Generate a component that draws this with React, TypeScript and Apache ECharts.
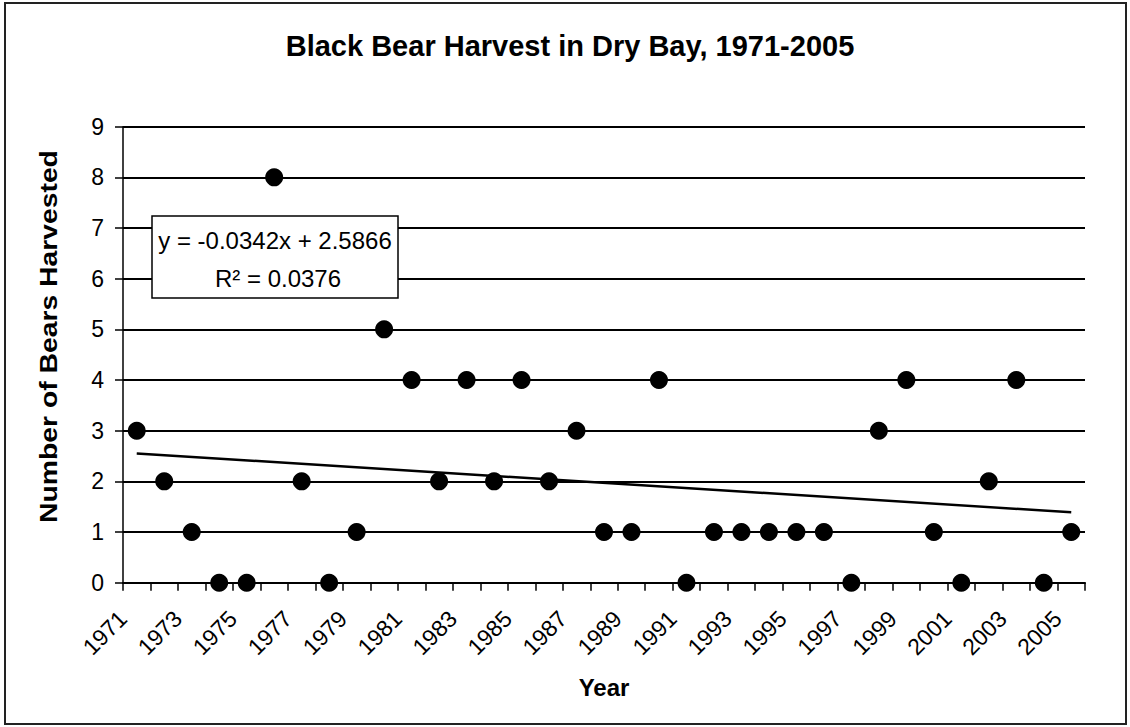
import React, { useEffect, useRef } from "react";
import * as echarts from "echarts";

const years = [
  "1971", "1972", "1973", "1974", "1975", "1976", "1977", "1978", "1979", "1980",
  "1981", "1982", "1983", "1984", "1985", "1986", "1987", "1988", "1989", "1990",
  "1991", "1992", "1993", "1994", "1995", "1996", "1997", "1998", "1999", "2000",
  "2001", "2002", "2003", "2004", "2005",
];
const harvest = [
  3, 2, 1, 0, 0, 8, 2, 0, 1, 5,
  4, 2, 4, 2, 4, 2, 3, 1, 1, 4,
  0, 1, 1, 1, 1, 1, 0, 3, 4, 1,
  0, 2, 4, 0, 1,
];
const trendSlope = -0.0342;
const trendIntercept = 2.5866;
const equationText = "y = -0.0342x + 2.5866";
const r2Text = "R² = 0.0376";
const titleText = "Black Bear Harvest in Dry Bay, 1971-2005";
const yName = "Number of Bears Harvested";
const xName = "Year";

const FONT = "Liberation Sans, Arial, sans-serif";

export default function App() {
  const ref = useRef<HTMLDivElement>(null);
  useEffect(() => {
    document.body.style.margin = "0";
    if (!ref.current) return;
    const chart = echarts.init(ref.current, null, { renderer: "svg" });
    const points = years.map((_, i) => [i + 0.5, harvest[i]]);
    const n = years.length;
    const trend = [
      [0.5, trendSlope * 1 + trendIntercept],
      [n - 0.5, trendSlope * n + trendIntercept],
    ];
    chart.setOption({
      animation: false,
      backgroundColor: "#fff",
      title: {
        text: titleText,
        left: 570,
        top: 31,
        padding: 0,
        textAlign: "center",
        textStyle: { fontFamily: FONT, fontSize: 29, fontWeight: "bold", color: "#000" },
      },
      grid: { left: 123, top: 126.7, width: 962, height: 456 },
      xAxis: {
        type: "value",
        min: 0,
        max: n,
        interval: 1,
        name: xName,
        nameLocation: "middle",
        nameGap: 93,
        nameTextStyle: { fontFamily: FONT, fontSize: 24, fontWeight: "bold", color: "#000" },
        axisLine: { show: true, onZero: false, lineStyle: { color: "#000", width: 2 } },
        axisTick: { show: true, length: 8, lineStyle: { color: "#000", width: 1.5 } },
        splitLine: { show: false },
        axisLabel: {
          fontFamily: FONT,
          fontSize: 23,
          color: "#000",
          rotate: 45,
          margin: 32,
          hideOverlap: false,
          formatter: (v: number) => {
            const idx = Math.round(v);
            return idx % 2 === 0 && idx < n ? years[idx] : "";
          },
        },
      },
      yAxis: {
        type: "value",
        min: 0,
        max: 9,
        interval: 1,
        axisLine: { show: true, lineStyle: { color: "#000", width: 1.5 } },
        axisTick: { show: true, length: 8, lineStyle: { color: "#000", width: 1.5 } },
        splitLine: { show: true, lineStyle: { color: "#000", width: 2 } },
        axisLabel: { fontFamily: FONT, fontSize: 23, color: "#000", margin: 19 },
      },
      series: [
        {
          type: "scatter",
          data: points,
          symbol: "circle",
          symbolSize: 18,
          itemStyle: { color: "#000", opacity: 1 },
          z: 3,
        },
        {
          type: "line",
          data: trend,
          symbol: "none",
          lineStyle: { color: "#000", width: 2.5, opacity: 1 },
          z: 4,
        },
      ],
      graphic: [
        {
          type: "rect",
          shape: { x: 5, y: 3, width: 1121, height: 721 },
          style: { fill: "none", stroke: "#222", lineWidth: 2 },
          silent: true,
          z: 10,
        },
        {
          type: "rect",
          shape: { x: 152, y: 216, width: 246, height: 82 },
          style: { fill: "#fff", stroke: "#000", lineWidth: 1.5 },
          z: 10,
        },
        {
          type: "text",
          x: 275,
          y: 240,
          z: 11,
          style: {
            text: equationText,
            fontFamily: FONT,
            fontSize: 24,
            fill: "#000",
            align: "center",
            verticalAlign: "middle",
          },
        },
        {
          type: "text",
          x: 278,
          y: 278.5,
          z: 11,
          style: {
            text: r2Text,
            fontFamily: FONT,
            fontSize: 24,
            fill: "#000",
            align: "center",
            verticalAlign: "middle",
          },
        },
        {
          type: "text",
          x: 48.5,
          y: 336.5,
          rotation: Math.PI / 2,
          scaleX: 1.18,
          z: 11,
          style: {
            text: yName,
            fontFamily: FONT,
            fontSize: 24,
            fontWeight: "bold",
            fill: "#000",
            align: "center",
            verticalAlign: "middle",
          },
        },
      ],
    });
    return () => chart.dispose();
  }, []);
  return <div ref={ref} style={{ width: 1130, height: 727, position: "absolute", left: 0, top: 0 }} />;
}
